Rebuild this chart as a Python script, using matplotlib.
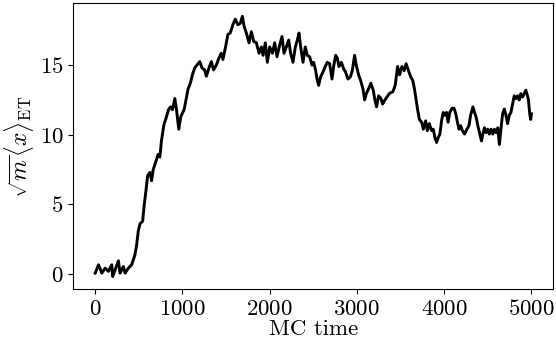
import matplotlib
matplotlib.use("Agg")
import matplotlib.pyplot as plt

# MC time samples
mc_time = [0, 38, 76, 114, 152, 190, 200, 228, 266, 285, 323, 342, 380, 418, 456, 475,
           494, 513, 544, 559, 582, 601, 627, 646, 665, 696, 722, 741, 760, 787, 817, 840,
           863, 886, 913, 932, 958, 981, 1019, 1046, 1065, 1091, 1114, 1141, 1167, 1198,
           1224, 1255, 1274, 1304, 1331, 1357, 1388, 1418, 1445, 1464, 1494, 1521, 1548,
           1578, 1605, 1635, 1664, 1687, 1706, 1733, 1763, 1790, 1817, 1847, 1878, 1905,
           1924, 1950, 1973, 2000, 2031, 2057, 2084, 2115, 2141, 2164, 2191, 2218, 2240,
           2267, 2294, 2317, 2336, 2355, 2382, 2408, 2431, 2458, 2485, 2504, 2527, 2546,
           2561, 2584, 2611, 2637, 2660, 2687, 2714, 2733, 2756, 2775, 2794, 2821, 2847,
           2870, 2897, 2924, 2947, 2973, 2992, 3019, 3042, 3069, 3088, 3107, 3134, 3160,
           3187, 3206, 3225, 3248, 3275, 3294, 3321, 3344, 3370, 3413, 3439, 3466, 3489,
           3515, 3542, 3564, 3591, 3617, 3640, 3659, 3678, 3697, 3716, 3742, 3761, 3788,
           3807, 3830, 3856, 3875, 3894, 3913, 3932, 3951, 3970, 3989, 4008, 4027, 4045,
           4064, 4091, 4114, 4133, 4152, 4170, 4189, 4208, 4235, 4261, 4284, 4303, 4330,
           4348, 4367, 4386, 4405, 4428, 4443, 4462, 4481, 4500, 4519, 4538, 4557, 4576,
           4595, 4614, 4633, 4652, 4670, 4689, 4708, 4727, 4746, 4765, 4784, 4803, 4822,
           4841, 4860, 4879, 4898, 4917, 4936, 4955, 4966, 4981, 4992, 5000]

# sqrt(m) <x>_ET values
x_et = [0.07, 0.67, 0.07, 0.43, 0.2, 0.67, -0.17, 0.3, 0.96, 0.07, 0.55, 0.07, 0.43, 0.67,
        1.4, 2.1, 3.1, 3.6, 3.8, 4.8, 6.0, 7.06, 7.3, 6.7, 7.5, 8.1, 8.6, 8.4, 9.6, 10.7,
        11.3, 11.8, 12.0, 11.8, 12.6, 11.8, 10.4, 11.3, 11.8, 12.7, 13.3, 13.7, 14.3, 14.8,
        15.0, 15.25, 14.8, 14.65, 14.2, 14.8, 15.25, 14.65, 15.0, 15.5, 15.85, 15.4, 16.3,
        17.2, 17.3, 17.9, 18.3, 17.9, 18.0, 18.5, 17.8, 17.3, 16.6, 17.4, 16.7, 16.6,
        15.85, 16.3, 15.7, 16.6, 15.2, 16.3, 15.85, 16.6, 15.6, 16.45, 17.05, 15.85, 16.3,
        16.8, 15.85, 15.2, 16.3, 16.8, 17.3, 16.3, 15.2, 16.3, 15.7, 15.6, 15.0, 15.2, 14.6,
        13.9, 13.55, 14.15, 14.5, 14.9, 15.2, 15.1, 14.0, 14.9, 15.7, 15.5, 14.9, 15.2,
        14.75, 14.5, 14.0, 14.15, 14.6, 15.7, 15.0, 14.3, 13.9, 13.3, 12.5, 12.95, 13.3,
        13.7, 13.2, 12.5, 12.0, 12.8, 12.6, 12.2, 12.5, 12.7, 12.95, 13.1, 13.55, 14.9,
        14.3, 14.9, 14.6, 15.1, 14.6, 14.15, 13.9, 13.3, 12.5, 11.75, 11.1, 10.9, 10.4,
        11.0, 10.3, 10.8, 10.3, 10.4, 9.8, 9.45, 9.8, 10.05, 11.0, 11.6, 11.4, 11.6, 10.9,
        11.6, 11.9, 11.9, 11.5, 10.9, 10.4, 10.65, 10.3, 10.05, 10.4, 10.65, 11.4, 12.0,
        11.6, 11.25, 10.65, 10.15, 9.55, 10.05, 10.5, 10.15, 10.4, 10.05, 10.4, 10.05,
        10.4, 10.15, 10.5, 9.3, 10.5, 11.5, 11.85, 11.4, 10.8, 11.4, 11.6, 12.2, 12.8, 12.6,
        12.8, 12.5, 12.95, 12.7, 12.95, 13.2, 12.8, 12.5, 11.5, 11.1, 11.5]

x_ticks = [0, 1000, 2000, 3000, 4000, 5000]
y_ticks = [0, 5, 10, 15]

plt.rcParams['font.family'] = 'serif'
plt.rcParams['font.serif'] = ['cmr10', 'DejaVu Serif']
plt.rcParams['mathtext.fontset'] = 'cm'
plt.rcParams['axes.formatter.use_mathtext'] = True
plt.rcParams['axes.unicode_minus'] = False

fig = plt.figure(figsize=(5.56, 3.49), dpi=100)
ax = fig.add_axes([0.132, 0.1705, 0.863, 0.82])
ax.plot(mc_time, x_et, color='black', lw=2.1)
ax.set_xticks(x_ticks)
ax.set_yticks(y_ticks)
ax.tick_params(labelsize=16.5)
ax.set_xlabel('MC time', fontsize=16.5, labelpad=0)
ax.set_ylabel(r'$\sqrt{m}\langle x\rangle_{\mathrm{ET}}$', fontsize=17, labelpad=3)
ax.margins(x=0.05, y=0.05)
fig.savefig('out.png', dpi=100)
